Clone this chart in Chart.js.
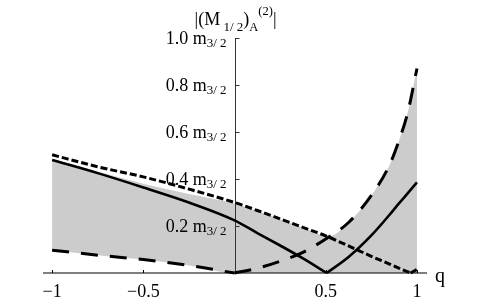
<!doctype html>
<html lang="en">
<head>
<meta charset="utf-8">
<title>|(M1/2)A(2)| against q</title>
<script src="https://cdn.jsdelivr.net/npm/chart.js@4.4.0/dist/chart.umd.min.js"></script>
<style>
  html, body { margin: 0; padding: 0; background: #fff; }
  canvas { display: block; }
</style>
</head>
<body>
<canvas id="plot" width="491" height="304"></canvas>
<script>
// solid curve, two branches meeting at the zero near q = 0.5
const solidLeftQ = [-1, -0.75, -0.5, -0.25, 0, 0.125, 0.25, 0.375, 0.505];
const solidLeftV = [0.481, 0.425, 0.364, 0.3, 0.224, 0.17, 0.117, 0.062, 0];
const solidRightQ = [0.505, 0.625, 0.75, 0.85, 0.9, 0.95, 1];
const solidRightV = [0, 0.068, 0.16, 0.248, 0.295, 0.34, 0.386];

// short dashes
const shortQ = [-1, -0.75, -0.5, -0.25, 0, 0.125, 0.25, 0.375, 0.5, 0.625, 0.75, 0.85, 0.9, 0.965];
const shortV = [0.503, 0.452, 0.409, 0.357, 0.3, 0.266, 0.23, 0.194, 0.158, 0.115, 0.071, 0.038, 0.021, 0];
const shortTailQ = [0.965, 1];
const shortTailV = [0, 0.015];

// long dashes, two branches meeting at q = 0
const longLeftQ = [-1, -0.75, -0.5, -0.25, 0];
const longLeftV = [0.097, 0.076, 0.057, 0.032, 0];
const longRightQ = [0, 0.125, 0.25, 0.375, 0.5, 0.625, 0.75, 0.85, 0.9, 0.95, 1];
const longRightV = [0, 0.02, 0.05, 0.088, 0.145, 0.215, 0.33, 0.46, 0.56, 0.685, 0.87];

// grey band
const fillQ = [-1, -0.75, -0.5, -0.25, 0, 0.125, 0.25, 0.375, 0.5, 0.52, 0.625, 0.75, 0.85, 0.9, 0.95, 1];
const fillTop = [0.485, 0.432, 0.38, 0.336, 0.296, 0.264, 0.23, 0.194, 0.158, 0.157, 0.215, 0.33, 0.46, 0.56, 0.685, 0.87];
const fillBottom = [0.097, 0.076, 0.057, 0.032, 0, 0, 0, 0, 0, 0, 0, 0, 0, 0, 0, 0];

const xTicks = [-1, -0.5, 0.5, 1];
const xTickLabels = ['\u22121', '\u22120.5', '0.5', '1'];
const yTicks = [0.2, 0.4, 0.6, 0.8, 1.0];
const yTickLabels = ['0.2', '0.4', '0.6', '0.8', '1.0'];

const SERIF = '"Liberation Serif", "DejaVu Serif", serif';

function pts(xs, ys) {
    return xs.map((x, i) => ({ x: x, y: ys[i] }));
}

// draws a run of text pieces (sub/superscripts), returns width
function richText(ctx, x, y, parts, align) {
    let w = 0;
    parts.forEach(p => {
        ctx.font = p.size + 'px ' + SERIF;
        p.w = ctx.measureText(p.t).width;
        w += p.w;
    });
    let cx = align === 'right' ? x - w : (align === 'center' ? x - w / 2 : x);
    ctx.textAlign = 'left';
    ctx.textBaseline = 'alphabetic';
    parts.forEach(p => {
        ctx.font = p.size + 'px ' + SERIF;
        ctx.fillText(p.t, cx, y + (p.dy || 0));
        cx += p.w;
    });
    return w;
}

const axesPlugin = {
    id: 'axes',
    beforeDatasetsDraw(chart) {
        const ctx = chart.ctx;
        const xs = chart.scales.x, ys = chart.scales.y;
        const area = chart.chartArea;
        const y0 = ys.getPixelForValue(0);
        const x0 = xs.getPixelForValue(0);
        ctx.save();
        ctx.strokeStyle = '#000';
        ctx.lineWidth = 1.2;
        ctx.beginPath();
        ctx.moveTo(area.left, y0);
        ctx.lineTo(area.right, y0);
        ctx.stroke();
        ctx.lineWidth = 1;
        xTicks.forEach(t => {
            const px = Math.round(xs.getPixelForValue(t)) + 0.5;
            ctx.beginPath();
            ctx.moveTo(px, y0);
            ctx.lineTo(px, y0 - 3);
            ctx.stroke();
        });
        ctx.strokeStyle = '#333';
        const ax = Math.round(x0) + 0.5;
        ctx.beginPath();
        ctx.moveTo(ax, ys.getPixelForValue(1));
        ctx.lineTo(ax, y0);
        ctx.stroke();
        yTicks.forEach(t => {
            const py = Math.round(ys.getPixelForValue(t)) + 0.5;
            ctx.beginPath();
            ctx.moveTo(ax, py);
            ctx.lineTo(ax + 4, py);
            ctx.stroke();
        });
        ctx.restore();
    },
    afterDraw(chart) {
        const ctx = chart.ctx;
        const xs = chart.scales.x, ys = chart.scales.y;
        const x0 = xs.getPixelForValue(0);
        const y0 = ys.getPixelForValue(0);
        ctx.save();
        ctx.fillStyle = '#000';

        xTicks.forEach((t, i) => {
            richText(ctx, xs.getPixelForValue(t), 297, [{ t: xTickLabels[i], size: 18 }], 'center');
        });

        yTicks.forEach((t, i) => {
            const py = ys.getPixelForValue(t);
            richText(ctx, x0 - 8, py + 5.5, [
                { t: yTickLabels[i], size: 18 },
                { t: ' m', size: 18 },
                { t: '3/ 2', size: 13, dy: 3.5 }
            ], 'right');
        });

        // axis titles
        richText(ctx, x0 + 1, 25, [
            { t: '|(M', size: 18 },
            { t: ' 1/ 2', size: 13, dy: 6 },
            { t: ')', size: 18 },
            { t: 'A', size: 12.5, dy: 6 },
            { t: '(2)', size: 12.5, dy: -10 },
            { t: '|', size: 18 }
        ], 'center');
        richText(ctx, 435, y0 + 9, [{ t: 'q', size: 20 }], 'left');
        ctx.restore();
    }
};

function curve(label, xs, ys, width, dash) {
    return {
        label: label,
        data: pts(xs, ys),
        fill: false,
        pointRadius: 0,
        cubicInterpolationMode: 'monotone',
        borderColor: '#000',
        borderWidth: width,
        borderDash: dash,
        clip: false
    };
}

new Chart(document.getElementById('plot'), {
    type: 'line',
    data: {
        datasets: [
            curve('solid', solidLeftQ, solidLeftV, 2.6, []),
            curve('solid', solidRightQ, solidRightV, 2.6, []),
            curve('short dash', shortQ, shortV, 3, [7, 3]),
            curve('short dash', shortTailQ, shortTailV, 3, [7, 3]),
            curve('long dash', longLeftQ, longLeftV, 3, [17, 12]),
            curve('long dash', longRightQ, longRightV, 3, [17, 12]),
            {
                label: 'band top', data: pts(fillQ, fillTop), pointRadius: 0, borderWidth: 0,
                borderColor: 'rgba(0,0,0,0)', backgroundColor: '#cccccc', fill: 7,
                cubicInterpolationMode: 'monotone', clip: false
            },
            {
                label: 'band bottom', data: pts(fillQ, fillBottom), pointRadius: 0, borderWidth: 0,
                borderColor: 'rgba(0,0,0,0)', fill: false,
                cubicInterpolationMode: 'monotone', clip: false
            }
        ]
    },
    options: {
        responsive: false,
        animation: false,
        layout: { padding: { left: 43, right: 64, top: 38, bottom: 31 } },
        scales: {
            x: { type: 'linear', min: -1.05, max: 1.055, display: false },
            y: { type: 'linear', min: 0, max: 1.0, display: false }
        },
        plugins: {
            legend: { display: false },
            tooltip: { enabled: false },
            filler: { drawTime: 'beforeDatasetsDraw' }
        }
    },
    plugins: [axesPlugin]
});
</script>
</body>
</html>
